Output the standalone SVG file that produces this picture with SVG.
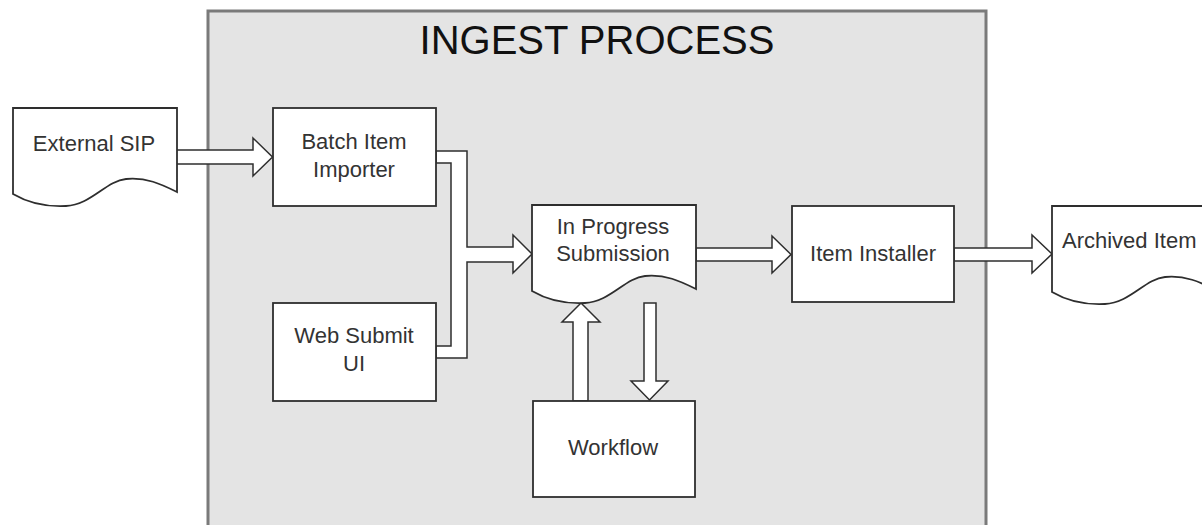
<svg xmlns="http://www.w3.org/2000/svg" xmlns:xlink="http://www.w3.org/1999/xlink" width="1202" height="525" viewBox="0 0 1202 525">
  <style>
    .box { fill: #ffffff; stroke: #2e2e2e; stroke-width: 1.8; }
    .arrow { fill: #ffffff; stroke: #2e2e2e; stroke-width: 1.5; stroke-linejoin: miter; }
    .lbl { font-family: "Liberation Sans", Arial, sans-serif; font-size: 22px; fill: #333333; text-anchor: middle; }
    .title { font-family: "Liberation Sans", Arial, sans-serif; font-size: 40px; fill: #111111; text-anchor: middle; }
  </style>
  <defs>
    <path id="doc" d="M0,0 H164 V84 C148,76 133,69 113,71 C93,73 78,97 53,98 C33,99 17,96 0,86 Z"/>
  </defs>
  <rect width="1202" height="525" fill="#ffffff"/>

  <g id="ingest-process">
    <rect x="208" y="11" width="778" height="530" fill="#e4e4e4" stroke="#7a7a7a" stroke-width="3"/>
    <text class="title" x="597" y="54">INGEST PROCESS</text>
  </g>

  <g id="connectors">
    <polygon class="arrow" points="176,150 253,150 253,138 272.5,157 253,176 253,164 176,164"/>
    <polygon class="arrow" points="436,151 467,151 467,247 513,247 513,235 532,254 513,273 513,262 467,262 467,358 436,358 436,346 451,346 451,163 436,163"/>
    <polygon class="arrow" points="696,248 772,248 772,236 791,254.5 772,273 772,261 696,261"/>
    <polygon class="arrow" points="954,248 1032,248 1032,235 1052,254 1032,273 1032,261 954,261"/>
    <polygon class="arrow" points="573,401 573,322 562,322 581,303 600,322 588,322 588,401"/>
    <polygon class="arrow" points="644,303 656,303 656,381 668,381 649.5,400 631,381 644,381"/>
  </g>

  <g id="external-sip">
    <use xlink:href="#doc" href="#doc" class="box" x="13" y="108"/>
    <text class="lbl" x="94" y="151">External SIP</text>
  </g>

  <g id="batch-item-importer">
    <rect class="box" x="273" y="108" width="163" height="98"/>
    <text class="lbl" x="354" y="149">Batch Item</text>
    <text class="lbl" x="354" y="177">Importer</text>
  </g>

  <g id="web-submit-ui">
    <rect class="box" x="273" y="303" width="163" height="98"/>
    <text class="lbl" x="354" y="343">Web Submit</text>
    <text class="lbl" x="354" y="371">UI</text>
  </g>

  <g id="in-progress-submission">
    <use xlink:href="#doc" href="#doc" class="box" x="532" y="205"/>
    <text class="lbl" x="613" y="234">In Progress</text>
    <text class="lbl" x="613" y="261">Submission</text>
  </g>

  <g id="item-installer">
    <rect class="box" x="792" y="206" width="162" height="96"/>
    <text class="lbl" x="873" y="261">Item Installer</text>
  </g>

  <g id="workflow">
    <rect class="box" x="533" y="401" width="162" height="96"/>
    <text class="lbl" x="613" y="455">Workflow</text>
  </g>

  <g id="archived-item">
    <use xlink:href="#doc" href="#doc" class="box" x="1052" y="206"/>
    <text class="lbl" x="1062" y="247.5" style="text-anchor: start;">Archived Item</text>
  </g>
</svg>
